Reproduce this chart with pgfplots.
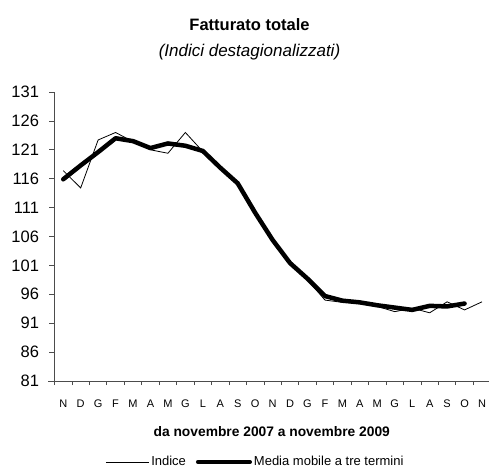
\documentclass[border=0pt]{standalone}
\usepackage{fontspec}
\setmainfont{Liberation Sans}
\usepackage{pgfplots}
\pgfplotsset{compat=1.18}
\begin{document}
\begin{tikzpicture}
\begin{axis}[
  scale only axis, width=434.5bp, height=289bp,
  xmin=-0.5, xmax=24.4, ymin=81, ymax=131,
  axis lines*=left,
  axis line style={black!70, line width=0.8bp},
  clip=false,
  ytick={81,86,...,131},
  xtick={0,...,24},
  xticklabels={N,D,G,F,M,A,M,G,L,A,S,O,N,D,G,F,M,A,M,G,L,A,S,O,N},
  minor xtick={-0.5,0.5,...,23.5},
  tick align=outside,
  major tick length=5bp, minor tick length=4bp,
  major x tick style={draw=none},
  minor x tick style={black!70, line width=0.8bp},
  major y tick style={black!70, line width=0.8bp},
  /pgf/number format/assume math mode=true,
  yticklabel style={font=\fontsize{16.5bp}{18bp}\selectfont, anchor=east, xshift=-7bp},
  xticklabel style={font=\fontsize{11bp}{12bp}\selectfont, anchor=center, yshift=-18bp},
  xlabel={da novembre 2007 a novembre 2009},
  xlabel style={at={(axis description cs:0.5,-0.1765)}, anchor=center, font=\bfseries\fontsize{13.8bp}{16bp}\selectfont},
  legend style={at={(0.4626,-0.28)}, anchor=center, draw=none, fill=none,
    font=\fontsize{13bp}{15bp}\selectfont,
    /tikz/every even column/.append style={column sep=8bp}},
  legend columns=2,
]
\addplot[black, line width=0.8bp, legend image code/.code={\draw[black, line width=0.8bp] (0bp,0bp) -- (43bp,0bp);}] coordinates {
(0,117.4) (1,114.4) (2,122.7) (3,124.0) (4,122.4) (5,121.0) (6,120.4) (7,124.0)
(8,120.7) (9,117.8) (10,115.2) (11,110.0) (12,105.4) (13,101.3) (14,98.5) (15,95.0)
(16,94.6) (17,94.5) (18,93.9) (19,93.0) (20,93.6) (21,92.8) (22,94.7) (23,93.3) (24,94.7)
};
\addlegendentry{Indice}
\addplot[black, line width=4.5bp, line join=round, line cap=round, legend image code/.code={\draw[black, line width=4bp, line cap=round] (0bp,0bp) -- (52bp,0bp);}] coordinates {
(0,115.9) (1,118.3) (2,120.6) (3,123.0) (4,122.5) (5,121.3) (6,122.1) (7,121.7)
(8,120.8) (9,117.9) (10,115.2) (11,110.1) (12,105.4) (13,101.4) (14,98.7) (15,95.7)
(16,94.9) (17,94.6) (18,94.1) (19,93.7) (20,93.3) (21,94.0) (22,93.9) (23,94.4)
};
\addlegendentry{Media mobile a tre termini}
\node[font=\bfseries\fontsize{16.5bp}{20bp}\selectfont] at (axis description cs:0.4488,1.234) {Fatturato totale};
\node[font=\itshape\fontsize{17bp}{20bp}\selectfont] at (axis description cs:0.4488,1.138) {(Indici destagionalizzati)};
\draw[black!70, line width=0.8bp] (axis description cs:0,0) -- ++(-6bp,0bp);
\end{axis}
\pgfresetboundingbox
\path[use as bounding box] (current axis.south west) ++(-54.5bp,-91bp) rectangle ++(489bp,472bp);
\end{tikzpicture}
\end{document}
